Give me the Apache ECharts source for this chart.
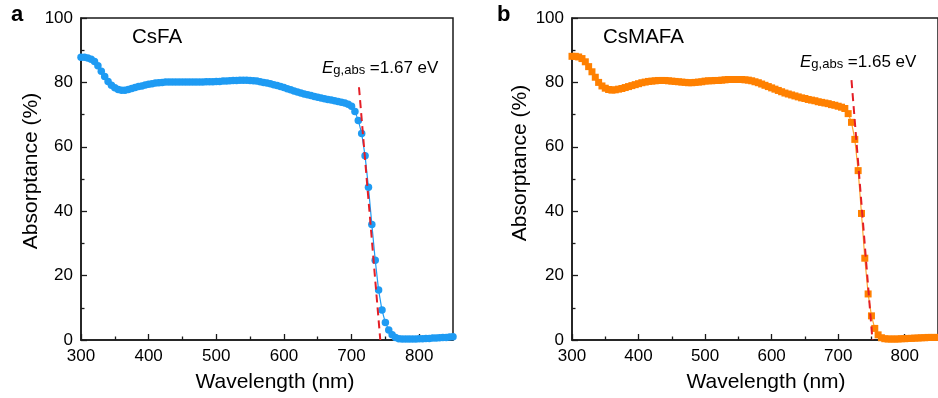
<!DOCTYPE html>
<html>
<head>
<meta charset="utf-8">
<script src="https://cdn.jsdelivr.net/npm/echarts@6/dist/echarts.min.js"></script>
<style>
  html, body { margin: 0; padding: 0; background: #fff; }
  #chart { width: 938px; height: 398px; }
</style>
</head>
<body>
<div id="chart"></div>
<script>
// Wavelength grid (nm), shared by both films
const wavelength = [
  300,305,310,315,320,325,330,335,340,345,350,355,360,365,370,375,380,385,390,395,
  400,405,410,415,420,425,430,435,440,445,450,455,460,465,470,475,480,485,490,495,
  500,505,510,515,520,525,530,535,540,545,550,555,560,565,570,575,580,585,590,595,
  600,605,610,615,620,625,630,635,640,645,650,655,660,665,670,675,680,685,690,695,
  700,705,710,715,720,725,730,735,740,745,750,755,760,765,770,775,780,785,790,795,
  800,805,810,815,820,825,830,835,840,845,850
];

// Absorptance (%) of the CsFA film
const absCsFA = [
  87.8,87.8,87.6,87.2,86.5,85.2,83.5,81.8,80.3,79.1,78.3,77.8,77.6,77.6,77.8,78.1,78.4,78.7,78.9,79.2,
  79.4,79.6,79.8,79.9,80.0,80.1,80.1,80.1,80.1,80.1,80.1,80.1,80.1,80.1,80.1,80.1,80.1,80.2,80.2,80.2,
  80.3,80.3,80.4,80.4,80.5,80.6,80.6,80.7,80.7,80.7,80.6,80.5,80.4,80.2,80.0,79.8,79.6,79.3,79.0,78.7,
  78.4,78.05,77.7,77.35,77.0,76.7,76.4,76.15,75.9,75.65,75.4,75.15,74.9,74.7,74.5,74.3,74.1,73.85,73.6,73.2,
  72.6,71.0,68.2,64.1,57.2,47.4,35.9,24.8,15.5,9.3,5.4,3.1,1.6,0.8,0.4,0.3,0.3,0.3,0.3,0.3,
  0.4,0.4,0.5,0.5,0.6,0.6,0.7,0.8,0.8,0.9,1.0
];

// Absorptance (%) of the CsMAFA film
const absCsMAFA = [
  88.1,88.1,87.9,87.4,86.4,84.9,83.3,81.6,80.0,78.9,78.2,77.8,77.6,77.7,77.9,78.1,78.4,78.7,79.0,79.3,
  79.6,79.9,80.1,80.3,80.4,80.5,80.6,80.6,80.6,80.5,80.4,80.3,80.2,80.1,80.0,79.9,79.9,80.0,80.1,80.2,
  80.4,80.5,80.5,80.6,80.6,80.7,80.8,80.9,80.9,80.9,80.9,80.9,80.8,80.7,80.5,80.2,79.9,79.5,79.1,78.7,
  78.3,77.9,77.5,77.1,76.7,76.4,76.1,75.8,75.5,75.2,75.0,74.7,74.5,74.3,74.0,73.8,73.6,73.4,73.1,72.9,
  72.6,72.3,71.9,70.3,67.6,62.3,52.6,39.3,25.4,14.3,7.5,3.6,1.6,0.7,0.4,0.3,0.3,0.3,0.3,0.4,
  0.4,0.5,0.5,0.6,0.6,0.7,0.7,0.8,0.8,0.8,0.8
];

// Linear fits of the absorption edge: [wavelength, absorptance] end points
const edgeFitCsFA = [[711, 78.5], [742.5, 0]];
const edgeFitCsMAFA = [[720, 80.7], [751.5, 0]];

// Panel texts
const panelLetters = ['a', 'b'];
const filmNames = ['CsFA', 'CsMAFA'];
const bandGaps = ['1.67', '1.65'];
const xTitle = 'Wavelength (nm)';
const yTitle = 'Absorptance (%)';

const FONT = '"Liberation Sans", Arial, sans-serif';
const INK = '#1a1a1a';
const BLUE = '#1E9BF3';
const ORANGE = '#FF8000';
const ORANGE_LINE = '#FFA630';
const RED = '#E41E26';

const pairs = (xs, ys) => xs.map((x, i) => [x, ys[i]]);

function xAxisFor(gi) {
  return {
    type: 'value', gridIndex: gi, min: 300, max: 850, interval: 100,
    axisLine: { show: true, onZero: false, lineStyle: { color: INK, width: 1.5 } },
    axisTick: { show: true, inside: true, length: 6, lineStyle: { color: INK, width: 1.3 } },
    minorTick: { show: true, splitNumber: 2, length: 3.5, lineStyle: { color: INK, width: 1.3 } },
    axisLabel: { fontFamily: FONT, fontSize: 17, color: '#000', margin: 8, showMaxLabel: false },
    splitLine: { show: false }, minorSplitLine: { show: false }
  };
}
function yAxisFor(gi) {
  return {
    type: 'value', gridIndex: gi, min: 0, max: 100, interval: 20,
    axisLine: { show: true, onZero: false, lineStyle: { color: INK, width: 1.5 } },
    axisTick: { show: true, inside: true, length: 6, lineStyle: { color: INK, width: 1.3 } },
    minorTick: { show: true, splitNumber: 2, length: 3.5, lineStyle: { color: INK, width: 1.3 } },
    axisLabel: { fontFamily: FONT, fontSize: 17, color: '#000', margin: 8 },
    splitLine: { show: false }, minorSplitLine: { show: false }
  };
}

const gridBox = { show: true, borderColor: INK, borderWidth: 1.5, backgroundColor: 'transparent' };

function bandGapText(x, y, eg) {
  return {
    type: 'text', left: x, top: y,
    style: {
      text: '{e|E}{s|g,abs}{n| =' + eg + ' eV}',
      rich: {
        e: { fontFamily: FONT, fontSize: 17, fontStyle: 'italic', fill: '#000', verticalAlign: 'bottom', lineHeight: 18 },
        s: { fontFamily: FONT, fontSize: 13, fill: '#000', verticalAlign: 'bottom', lineHeight: 18 },
        n: { fontFamily: FONT, fontSize: 17, fill: '#000', verticalAlign: 'bottom', lineHeight: 18 }
      }
    }
  };
}
function plainText(x, y, text, size, weight, align) {
  return {
    type: 'text', x: x, y: y,
    style: { text: text, fontFamily: FONT, fontSize: size, fontWeight: weight || 'normal',
             fill: '#000', align: align || 'left', verticalAlign: 'middle' }
  };
}
function rotatedText(x, y, text, size) {
  return {
    type: 'text', x: x, y: y, rotation: Math.PI / 2,
    style: { text: text, fontFamily: FONT, fontSize: size, fill: '#000',
             align: 'center', verticalAlign: 'middle' }
  };
}

const chart = echarts.init(document.getElementById('chart'), null, { renderer: 'canvas' });
chart.setOption({
  animation: false,
  backgroundColor: '#fff',
  grid: [
    Object.assign({ left: 81, top: 18, width: 372, height: 322 }, gridBox),
    Object.assign({ left: 572, top: 18, width: 372, height: 322 }, gridBox)
  ],
  xAxis: [xAxisFor(0), xAxisFor(1)],
  yAxis: [yAxisFor(0), yAxisFor(1)],
  series: [
    {
      type: 'line', xAxisIndex: 0, yAxisIndex: 0, data: pairs(wavelength, absCsFA),
      symbol: 'circle', symbolSize: 7.5, showAllSymbol: true,
      itemStyle: { color: BLUE }, lineStyle: { color: BLUE, width: 1.2 }, z: 2
    },
    {
      type: 'line', xAxisIndex: 0, yAxisIndex: 0, data: edgeFitCsFA,
      symbol: 'none', lineStyle: { color: RED, width: 2, type: [8, 5] }, z: 3
    },
    {
      type: 'line', xAxisIndex: 1, yAxisIndex: 1, data: pairs(wavelength, absCsMAFA),
      symbol: 'rect', symbolSize: 7, showAllSymbol: true,
      itemStyle: { color: ORANGE }, lineStyle: { color: ORANGE_LINE, width: 1.2 }, z: 2
    },
    {
      type: 'line', xAxisIndex: 1, yAxisIndex: 1, data: edgeFitCsMAFA,
      symbol: 'none', lineStyle: { color: RED, width: 2, type: [8, 5] }, z: 3
    }
  ],
  graphic: [
    plainText(11, 15, panelLetters[0], 22, 'bold'),
    plainText(497, 15, panelLetters[1], 22, 'bold'),
    plainText(132, 37, filmNames[0], 20.5),
    plainText(603, 37, filmNames[1], 20.5),
    bandGapText(322, 60, bandGaps[0]),
    bandGapText(800, 54, bandGaps[1]),
    plainText(275, 382, xTitle, 21, 'normal', 'center'),
    plainText(766, 382, xTitle, 21, 'normal', 'center'),
    rotatedText(31, 171, yTitle, 21),
    rotatedText(520, 163, yTitle, 21)
  ]
});
</script>
</body>
</html>
